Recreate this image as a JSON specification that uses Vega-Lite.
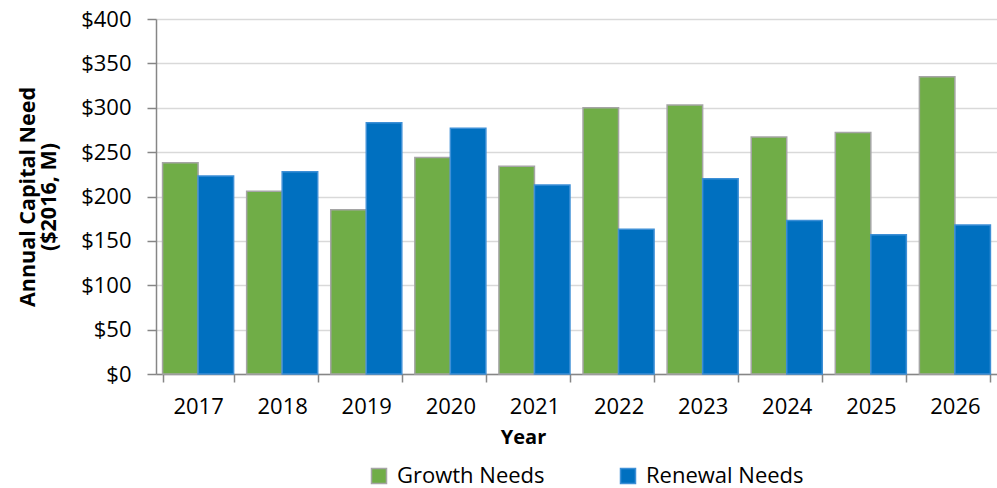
{
  "$schema": "https://vega.github.io/schema/vega-lite/v6.json",
  "autosize": {"type": "none"},
  "padding": {"left": 156, "top": 19, "right": 0, "bottom": 114},
  "width": 841,
  "height": 355,
  "background": "white",
  "config": {
    "font": "Open Sans",
    "view": {"stroke": null}
  },
  "data": {
    "values": [
      {"year": "2017", "series": "Growth Needs", "value": 238},
      {"year": "2017", "series": "Renewal Needs", "value": 223},
      {"year": "2018", "series": "Growth Needs", "value": 206},
      {"year": "2018", "series": "Renewal Needs", "value": 228},
      {"year": "2019", "series": "Growth Needs", "value": 185},
      {"year": "2019", "series": "Renewal Needs", "value": 283},
      {"year": "2020", "series": "Growth Needs", "value": 244},
      {"year": "2020", "series": "Renewal Needs", "value": 277},
      {"year": "2021", "series": "Growth Needs", "value": 234},
      {"year": "2021", "series": "Renewal Needs", "value": 213},
      {"year": "2022", "series": "Growth Needs", "value": 300},
      {"year": "2022", "series": "Renewal Needs", "value": 163},
      {"year": "2023", "series": "Growth Needs", "value": 303},
      {"year": "2023", "series": "Renewal Needs", "value": 220},
      {"year": "2024", "series": "Growth Needs", "value": 267},
      {"year": "2024", "series": "Renewal Needs", "value": 173},
      {"year": "2025", "series": "Growth Needs", "value": 272},
      {"year": "2025", "series": "Renewal Needs", "value": 157},
      {"year": "2026", "series": "Growth Needs", "value": 335},
      {"year": "2026", "series": "Renewal Needs", "value": 168}
    ]
  },
  "mark": {"type": "bar", "strokeWidth": 1.5},
  "encoding": {
    "x": {
      "field": "year",
      "type": "nominal",
      "scale": {"paddingInner": 0.155, "paddingOuter": 0.078},
      "axis": {
        "title": "Year",
        "titleFontSize": 20,
        "titleFontWeight": "bold",
        "titleColor": "black",
        "titleAnchor": "start",
        "titleAlign": "center",
        "titleX": 367,
        "titleY": 63,
        "titleBaseline": "middle",
        "labelAngle": 0,
        "labelFontSize": 22,
        "labelColor": "black",
        "labelPadding": 14,
        "tickBand": "extent",
        "tickSize": 8,
        "tickColor": "#868686",
        "tickWidth": 1.5,
        "domainColor": "#868686",
        "domainWidth": 1.5
      }
    },
    "xOffset": {"field": "series", "type": "nominal", "sort": ["Growth Needs", "Renewal Needs"], "scale": {"paddingInner": 0}},
    "y": {
      "field": "value",
      "type": "quantitative",
      "scale": {"domain": [0, 400]},
      "axis": {
        "title": ["Annual Capital Need", "($2016, M)"],
        "titleFontSize": 21.5,
        "titleFontWeight": "bold",
        "titleColor": "black",
        "titleLineHeight": 21,
        "titlePadding": 20,
        "values": [0, 50, 100, 150, 200, 250, 300, 350, 400],
        "format": "$,.0f",
        "labelFontSize": 22,
        "labelColor": "black",
        "labelPadding": 16,
        "tickSize": 9,
        "tickColor": "#868686",
        "tickWidth": 1.5,
        "domainColor": "#868686",
        "domainWidth": 1.5,
        "gridColor": "#D9D9D9",
        "gridWidth": 1.5
      }
    },
    "color": {
      "field": "series",
      "type": "nominal",
      "scale": {"domain": ["Growth Needs", "Renewal Needs"], "range": ["#70AD47", "#0070C0"]},
      "legend": {
        "title": null,
        "orient": "none",
        "direction": "horizontal",
        "legendX": 212,
        "legendY": 446,
        "symbolType": "square",
        "symbolSize": 225,
        "labelFontSize": 22,
        "labelColor": "black",
        "labelOffset": 7,
        "columnPadding": 72
      }
    },
    "stroke": {
      "field": "series",
      "type": "nominal",
      "scale": {"domain": ["Growth Needs", "Renewal Needs"], "range": ["#A5A5A5", "#3D8FD6"]},
      "legend": null
    }
  }
}
